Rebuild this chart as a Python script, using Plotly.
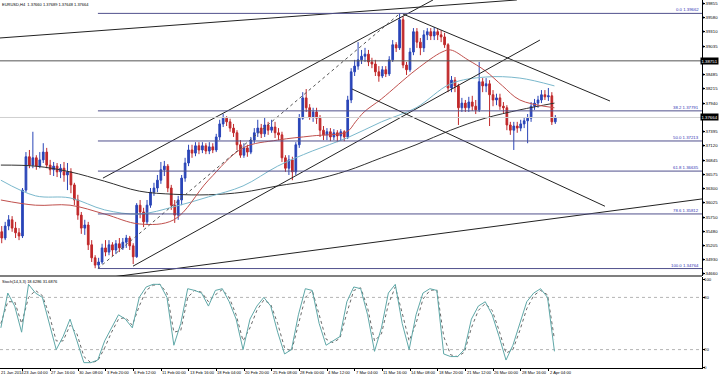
import plotly.graph_objects as go

# ---------------- data ----------------
title_text = "EURUSD,H4  1.37660 1.37689 1.37648 1.37664"
stoch_text = "Stoch(14,3,3) 18.6286 31.6876"

# candles (each spans two H4 bars; x = H4 bar index)
candle_x = [2 * i + 0.5 for i in range(161)]
opens = [1.3547,1.3535,1.3558,1.3570,1.3554,1.3545,1.3539,1.3627,1.3691,1.3675,
         1.3689,1.3673,1.3685,1.3700,1.3675,1.3666,1.3673,1.3662,1.3669,1.3656,
         1.3662,1.3637,1.3608,1.3579,1.3554,1.3560,1.3522,1.3497,1.3483,1.3489,
         1.3516,1.3508,1.3522,1.3512,1.3524,1.3516,1.3527,1.3535,1.3520,1.3499,
         1.3598,1.3585,1.3566,1.3598,1.3623,1.3631,1.3646,1.3666,1.3673,1.3631,
         1.3598,1.3579,1.3608,1.3650,1.3679,1.3704,1.3698,1.3712,1.3704,1.3712,
         1.3702,1.3710,1.3704,1.3729,1.3754,1.3765,1.3758,1.3746,1.3737,1.3714,
         1.3694,1.3708,1.3700,1.3723,1.3737,1.3746,1.3735,1.3752,1.3742,1.3748,
         1.3737,1.3733,1.3689,1.3669,1.3685,1.3662,1.3714,1.3765,1.3804,1.3785,
         1.3767,1.3777,1.3765,1.3742,1.3733,1.3739,1.3729,1.3737,1.3731,1.3739,
         1.3729,1.3800,1.3854,1.3865,1.3877,1.3884,1.3888,1.3873,1.3869,1.3854,
         1.3846,1.3858,1.3850,1.3877,1.3906,1.3900,1.3954,1.3867,1.3858,1.3892,
         1.3931,1.3911,1.3900,1.3925,1.3931,1.3923,1.3931,1.3925,1.3921,1.3906,
         1.3823,1.3838,1.3827,1.3785,1.3794,1.3785,1.3796,1.3788,1.3781,1.3835,
         1.3827,1.3831,1.3810,1.3800,1.3804,1.3788,1.3785,1.3752,1.3742,1.3750,
         1.3746,1.3754,1.3760,1.3765,1.3788,1.3794,1.3800,1.3810,1.3806,1.3808,
         1.3758]
highs = [1.3558,1.3566,1.3579,1.3577,1.3566,1.3554,1.3631,1.3700,1.3704,1.3739,
         1.3694,1.3700,1.3717,1.3708,1.3685,1.3681,1.3679,1.3677,1.3681,1.3679,
         1.3669,1.3641,1.3618,1.3585,1.3570,1.3566,1.3531,1.3502,1.3497,1.3524,
         1.3531,1.3531,1.3527,1.3531,1.3535,1.3535,1.3541,1.3539,1.3525,1.3602,
         1.3608,1.3593,1.3608,1.3631,1.3641,1.3656,1.3681,1.3683,1.3677,1.3637,
         1.3608,1.3616,1.3656,1.3689,1.3714,1.3714,1.3719,1.3719,1.3719,1.3717,
         1.3719,1.3717,1.3735,1.3762,1.3773,1.3769,1.3764,1.3754,1.3742,1.3723,
         1.3717,1.3714,1.3729,1.3746,1.3762,1.3754,1.3767,1.3758,1.3762,1.3758,
         1.3746,1.3739,1.3694,1.3694,1.3691,1.3719,1.3773,1.3815,1.3821,1.3792,
         1.3785,1.3785,1.3771,1.3750,1.3746,1.3746,1.3744,1.3742,1.3744,1.3742,
         1.3808,1.3861,1.3877,1.3911,1.3896,1.3900,1.3896,1.3881,1.3877,1.3865,
         1.3865,1.3865,1.3884,1.3915,1.3911,1.3966,1.3961,1.3873,1.3900,1.3938,
         1.3938,1.3919,1.3934,1.3938,1.3938,1.3940,1.3936,1.3934,1.3929,1.3909,
         1.3846,1.3844,1.3831,1.3804,1.3800,1.3806,1.3808,1.3800,1.3873,1.3842,
         1.3842,1.3838,1.3819,1.3812,1.3812,1.3796,1.3790,1.3758,1.3758,1.3758,
         1.3762,1.3767,1.3773,1.3796,1.3802,1.3808,1.3819,1.3819,1.3823,1.3815,
         1.3771]
lows = [1.3525,1.3531,1.3550,1.3547,1.3535,1.3531,1.3535,1.3623,1.3669,1.3669,
        1.3666,1.3669,1.3679,1.3669,1.3656,1.3654,1.3652,1.3650,1.3643,1.3627,
        1.3621,1.3598,1.3570,1.3543,1.3541,1.3512,1.3489,1.3477,1.3477,1.3485,
        1.3500,1.3502,1.3500,1.3504,1.3508,1.3512,1.3516,1.3512,1.3485,1.3497,
        1.3573,1.3556,1.3560,1.3593,1.3616,1.3623,1.3639,1.3654,1.3623,1.3589,
        1.3564,1.3570,1.3598,1.3643,1.3673,1.3689,1.3692,1.3696,1.3698,1.3696,
        1.3696,1.3698,1.3700,1.3723,1.3748,1.3750,1.3739,1.3729,1.3704,1.3689,
        1.3689,1.3691,1.3696,1.3717,1.3729,1.3727,1.3729,1.3733,1.3737,1.3727,
        1.3723,1.3681,1.3662,1.3656,1.3646,1.3656,1.3708,1.3762,1.3777,1.3762,
        1.3758,1.3754,1.3729,1.3723,1.3723,1.3721,1.3723,1.3719,1.3723,1.3721,
        1.3725,1.3794,1.3846,1.3858,1.3869,1.3873,1.3865,1.3861,1.3846,1.3835,
        1.3842,1.3844,1.3846,1.3873,1.3892,1.3896,1.3861,1.3848,1.3854,1.3886,
        1.3900,1.3886,1.3892,1.3915,1.3915,1.3915,1.3915,1.3911,1.3900,1.3815,
        1.3815,1.3815,1.3752,1.3777,1.3777,1.3777,1.3779,1.3773,1.3777,1.3815,
        1.3815,1.3750,1.3788,1.3790,1.3781,1.3775,1.3742,1.3733,1.3704,1.3737,
        1.3740,1.3746,1.3717,1.3758,1.3781,1.3785,1.3794,1.3800,1.3798,1.3752,
        1.3754]
closes = [1.3535,1.3558,1.3570,1.3554,1.3545,1.3539,1.3627,1.3691,1.3675,1.3689,
          1.3673,1.3685,1.3700,1.3675,1.3666,1.3673,1.3662,1.3669,1.3656,1.3662,
          1.3637,1.3608,1.3579,1.3554,1.3560,1.3522,1.3497,1.3483,1.3489,1.3516,
          1.3508,1.3522,1.3512,1.3524,1.3516,1.3527,1.3535,1.3520,1.3499,1.3598,
          1.3585,1.3566,1.3598,1.3623,1.3631,1.3646,1.3666,1.3673,1.3631,1.3598,
          1.3579,1.3608,1.3650,1.3679,1.3704,1.3698,1.3712,1.3704,1.3712,1.3702,
          1.3710,1.3704,1.3729,1.3754,1.3765,1.3758,1.3746,1.3737,1.3714,1.3694,
          1.3708,1.3700,1.3723,1.3737,1.3746,1.3735,1.3752,1.3742,1.3748,1.3737,
          1.3733,1.3689,1.3669,1.3685,1.3662,1.3714,1.3765,1.3804,1.3785,1.3767,
          1.3777,1.3765,1.3742,1.3733,1.3739,1.3729,1.3737,1.3731,1.3739,1.3729,
          1.3800,1.3854,1.3865,1.3877,1.3884,1.3888,1.3873,1.3869,1.3854,1.3846,
          1.3858,1.3850,1.3877,1.3906,1.3900,1.3954,1.3867,1.3858,1.3892,1.3931,
          1.3911,1.3900,1.3925,1.3931,1.3923,1.3931,1.3925,1.3921,1.3906,1.3823,
          1.3838,1.3827,1.3785,1.3794,1.3785,1.3796,1.3788,1.3781,1.3835,1.3827,
          1.3831,1.3810,1.3800,1.3804,1.3788,1.3785,1.3752,1.3742,1.3750,1.3746,
          1.3754,1.3760,1.3765,1.3788,1.3794,1.3800,1.3810,1.3806,1.3808,1.3758,
          1.3766]

# moving averages
ma_red_x = [0,20,40,60,80,100,120,140,160,180,200,205,210,220,240,255,260,270,280,290,300,320]
ma_red_y = [1.3608,1.3598,1.3598,1.3581,1.3562,1.3570,1.3646,1.3708,1.3723,1.3731,1.3739,
            1.3758,1.3777,1.3802,1.3858,1.3892,1.3896,1.3877,1.3856,1.3827,1.3800,1.3785]
ma_teal_x = [0,20,40,60,80,100,120,140,160,180,200,220,240,260,280,300,320]
ma_teal_y = [1.3646,1.3616,1.3612,1.3589,1.3581,1.3595,1.3614,1.3635,1.3673,1.3702,
             1.3727,1.3758,1.3785,1.3831,1.3844,1.3842,1.3827]
ma_black_x = [0,20,40,60,80,100,120,140,160,180,200,220,240,260,280,300,320]
ma_black_y = [1.3675,1.3673,1.3662,1.3644,1.3625,1.3619,1.3618,1.3623,1.3635,1.3646,
              1.3664,1.3689,1.3714,1.3742,1.3765,1.3781,1.3794]

# trend lines: (x0, price0, x1, price1)
trend_lines = [(-0.5, 1.3919, 298.3, 1.3992),
               (59.0, 1.3650, 249.8, 1.3992),
               (76.4, 1.3481, 311.6, 1.3915),
               (232.4, 1.3965, 352.1, 1.3798),
               (203.0, 1.3821, 349.2, 1.3596),
               (45.7, 1.3452, 405.3, 1.3610)]
dashed_line = (56.1, 1.34764, 230.7, 1.39662)

level_black = 1.38751
current_price = 1.37664
fib_start_x = 56.1
fib_levels = [0.0, 38.2, 50.0, 61.8, 78.6, 100.0]
fib_prices = [1.39662, 1.37791, 1.37213, 1.36635, 1.35812, 1.34764]

price_ticks = [1.34660,1.34930,1.35205,1.35480,1.35750,1.36025,1.36300,1.36575,1.36845,
               1.37120,1.37395,1.37940,1.38215,1.38485,1.39035,1.39310,1.39580,1.39855]

date_ticks = [12.6 + 16 * k for k in range(20)]
date_labels = ["23 Jan 04:00","27 Jan 16:00","30 Jan 08:00","3 Feb 20:00","6 Feb 12:00",
               "11 Feb 00:00","13 Feb 16:00","18 Feb 04:00","20 Feb 20:00","25 Feb 08:00",
               "28 Feb 00:00","4 Mar 12:00","7 Mar 04:00","11 Mar 16:00","14 Mar 08:00",
               "18 Mar 20:00","21 Mar 12:00","26 Mar 00:00","28 Mar 16:00","2 Apr 04:00"]
first_date_label = "21 Jan 2014"

stoch_x = [4 * k for k in range(81)]
stoch_k = [45,85,70,40,95,85,80,50,20,35,55,30,5,5,8,30,45,60,55,45,80,92,95,95,80,25,50,90,88,85,
           70,88,90,75,55,20,55,70,80,70,40,15,20,60,90,88,50,25,30,35,75,92,90,60,18,45,85,95,50,20,
           60,85,90,88,15,12,12,20,55,70,75,60,35,8,25,50,75,85,90,80,18]
stoch_d = [50,75,75,50,80,88,82,60,30,30,48,38,12,5,7,22,40,55,57,48,70,88,94,95,85,40,42,80,88,86,
           75,83,89,80,60,30,45,65,77,72,50,22,18,48,80,88,60,32,28,33,62,88,91,68,30,38,72,92,62,30,
           50,78,88,89,35,14,12,17,45,65,73,65,42,16,20,42,67,82,88,83,32]
stoch_ticks = [0, 20, 80, 100]

# ---------------- figure ----------------
X_RANGE = [-0.5, 405.3]
FONT = "Liberation Sans"
AX_FONT = dict(family=FONT, size=4.3, color="#000000")
DATE_FONT = dict(family=FONT, size=4.1, color="#000000")
RIGHT_X = 719.0 / 702.0   # right edge of the price labels, in paper units
fig = go.Figure()

fig.add_trace(go.Candlestick(
    x=candle_x, open=opens, high=highs, low=lows, close=closes,
    increasing=dict(line=dict(color="#2a45b8", width=1), fillcolor="#2a45b8"),
    decreasing=dict(line=dict(color="#c0282a", width=1), fillcolor="#c0282a"),
    xaxis="x", yaxis="y", showlegend=False, hoverinfo="skip"))

fig.add_trace(go.Scatter(x=ma_black_x, y=ma_black_y, mode="lines", line=dict(color="#303030", width=1, shape="spline"),
                         xaxis="x", yaxis="y", showlegend=False, hoverinfo="skip"))
fig.add_trace(go.Scatter(x=ma_teal_x, y=ma_teal_y, mode="lines", line=dict(color="#7ab8cc", width=1, shape="spline"),
                         xaxis="x", yaxis="y", showlegend=False, hoverinfo="skip"))
fig.add_trace(go.Scatter(x=ma_red_x, y=ma_red_y, mode="lines", line=dict(color="#c0504d", width=1, shape="spline"),
                         xaxis="x", yaxis="y", showlegend=False, hoverinfo="skip"))

for (x0, p0, x1, p1) in trend_lines:
    fig.add_trace(go.Scatter(x=[x0, x1], y=[p0, p1], mode="lines", line=dict(color="#222222", width=1),
                             xaxis="x", yaxis="y", showlegend=False, hoverinfo="skip"))
fig.add_trace(go.Scatter(x=[dashed_line[0], dashed_line[2]], y=[dashed_line[1], dashed_line[3]], mode="lines",
                         line=dict(color="#555555", width=1, dash="dot"),
                         xaxis="x", yaxis="y", showlegend=False, hoverinfo="skip"))

# horizontal lines
fig.add_trace(go.Scatter(x=X_RANGE, y=[level_black, level_black], mode="lines", line=dict(color="#555555", width=1),
                         xaxis="x", yaxis="y", showlegend=False, hoverinfo="skip"))
fig.add_trace(go.Scatter(x=X_RANGE, y=[current_price, current_price], mode="lines", line=dict(color="#cfcfcf", width=1),
                         xaxis="x", yaxis="y", showlegend=False, hoverinfo="skip"))
for lvl, pr in zip(fib_levels, fib_prices):
    fig.add_trace(go.Scatter(x=[fib_start_x, X_RANGE[1]], y=[pr, pr], mode="lines",
                             line=dict(color="#50508c", width=1),
                             xaxis="x", yaxis="y", showlegend=False, hoverinfo="skip"))
    fig.add_annotation(x=0.997, xref="paper", y=pr, yref="y", yanchor="bottom", xanchor="right",
                       text=f"{lvl:.1f} {pr:.5f}", showarrow=False, borderpad=0,
                       font=dict(family=FONT, size=4.3, color="#3232b4"), yshift=0)

# stochastic
fig.add_trace(go.Scatter(x=X_RANGE, y=[80, 80], mode="lines", line=dict(color="#b4b4b4", width=1, dash="dot"),
                         xaxis="x2", yaxis="y2", showlegend=False, hoverinfo="skip"))
fig.add_trace(go.Scatter(x=X_RANGE, y=[20, 20], mode="lines", line=dict(color="#b4b4b4", width=1, dash="dot"),
                         xaxis="x2", yaxis="y2", showlegend=False, hoverinfo="skip"))
fig.add_trace(go.Scatter(x=stoch_x, y=stoch_d, mode="lines", line=dict(color="#6a6a6a", width=1, dash="dot"),
                         xaxis="x2", yaxis="y2", showlegend=False, hoverinfo="skip"))
fig.add_trace(go.Scatter(x=stoch_x, y=stoch_k, mode="lines", line=dict(color="#5fa8a8", width=1),
                         xaxis="x2", yaxis="y2", showlegend=False, hoverinfo="skip"))

# right-hand price labels
for pv in price_ticks:
    fig.add_annotation(x=RIGHT_X, xref="paper", y=pv, yref="y", xanchor="right", yanchor="middle",
                       text=f"{pv:.5f}", showarrow=False, font=AX_FONT, borderpad=0)
for sv in stoch_ticks:
    fig.add_annotation(x=1.0, xref="paper", y=sv, yref="y2", xanchor="left", yanchor="middle",
                       text=str(sv), showarrow=False, font=AX_FONT, borderpad=0, xshift=1)

# highlighted price boxes
for pr in [level_black, current_price]:
    fig.add_annotation(x=RIGHT_X, xref="paper", y=pr, yref="y", xanchor="right", yanchor="middle",
                       text=f"{pr:.5f}", showarrow=False, bgcolor="#000000", borderpad=0.5,
                       font=dict(family=FONT, size=4.3, color="#ffffff"))

# date labels
for xv, lab in zip(date_ticks, date_labels):
    fig.add_annotation(x=xv, xref="x2", y=0, yref="paper", xanchor="left", yanchor="top",
                       text=lab, showarrow=False, font=DATE_FONT, borderpad=0, yshift=-1)
fig.add_annotation(x=0.0, xref="paper", y=0, yref="paper", xanchor="left", yanchor="top",
                   text=first_date_label, showarrow=False, font=DATE_FONT, borderpad=0, yshift=-1)

fig.add_annotation(x=0.002, xref="paper", y=1, yref="paper", xanchor="left", yanchor="top",
                   text=title_text, showarrow=False, font=dict(family=FONT, size=4.0, color="#000000"),
                   borderpad=0, yshift=-1)
fig.add_annotation(x=0.002, xref="paper", y=0.2473, yref="paper", xanchor="left", yanchor="top",
                   text=stoch_text, showarrow=False, font=dict(family=FONT, size=4.0, color="#000000"),
                   borderpad=0, yshift=-1)

# separator line between panels
fig.add_shape(type="line", xref="paper", yref="paper", x0=0, x1=1, y0=0.25, y1=0.25,
              line=dict(color="#000000", width=1.2))

fig.update_layout(
    width=720, height=376,
    margin=dict(l=0, r=18, t=0, b=8),
    paper_bgcolor="#ffffff", plot_bgcolor="#ffffff",
    showlegend=False,
    xaxis=dict(domain=[0, 1], range=X_RANGE, anchor="y", showticklabels=False, showgrid=False,
               zeroline=False, showline=False, rangeslider=dict(visible=False), fixedrange=True),
    yaxis=dict(domain=[0.25, 1], range=[1.34621, 1.39919], side="right", anchor="x",
               tickvals=price_ticks, showticklabels=False,
               ticks="outside", ticklen=2, tickcolor="#000000", showline=True, linecolor="#000000",
               linewidth=1, showgrid=False, zeroline=False, automargin=False),
    xaxis2=dict(domain=[0, 1], range=X_RANGE, anchor="y2", matches="x", showticklabels=False,
                tickvals=date_ticks, ticks="outside", ticklen=2, tickcolor="#000000",
                showgrid=False, zeroline=False, showline=True, linecolor="#000000", linewidth=1),
    yaxis2=dict(domain=[0, 0.2473], range=[-1.15, 103.45], side="right", anchor="x2",
                tickvals=stoch_ticks, showticklabels=False,
                ticks="outside", ticklen=2, tickcolor="#000000", showline=True, linecolor="#000000",
                linewidth=1, showgrid=False, zeroline=False, automargin=False),
)

fig.write_html("out.html")
